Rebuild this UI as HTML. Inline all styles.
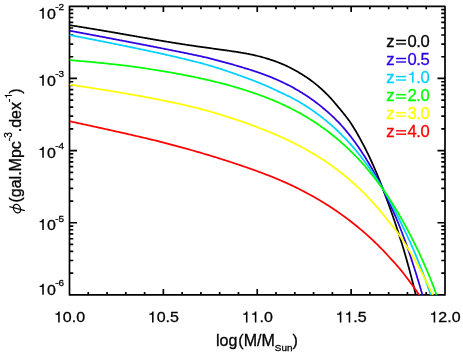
<!DOCTYPE html>
<html><head><meta charset="utf-8"><title>plot</title>
<style>html,body{margin:0;padding:0;background:#fff;}body{width:463px;height:360px;overflow:hidden;position:relative;font-family:"Liberation Sans",sans-serif;}</style></head>
<body>
<svg width="463" height="360" viewBox="0 0 463 360" style="position:absolute;left:0;top:0;will-change:transform;opacity:0.999">
<rect x="0" y="0" width="463" height="360" fill="#fff"/>
<clipPath id="c"><rect x="69.5" y="6.3" width="375.5" height="288.59999999999997"/></clipPath>
<path d="M69.5,6.3 H445.0 V294.9 H69.5 Z M69.50,294.9 v-5.8 M69.50,6.3 v5.8 M88.28,294.9 v-2.9 M88.28,6.3 v2.9 M107.05,294.9 v-2.9 M107.05,6.3 v2.9 M125.83,294.9 v-2.9 M125.83,6.3 v2.9 M144.60,294.9 v-2.9 M144.60,6.3 v2.9 M163.38,294.9 v-5.8 M163.38,6.3 v5.8 M182.15,294.9 v-2.9 M182.15,6.3 v2.9 M200.93,294.9 v-2.9 M200.93,6.3 v2.9 M219.70,294.9 v-2.9 M219.70,6.3 v2.9 M238.47,294.9 v-2.9 M238.47,6.3 v2.9 M257.25,294.9 v-5.8 M257.25,6.3 v5.8 M276.02,294.9 v-2.9 M276.02,6.3 v2.9 M294.80,294.9 v-2.9 M294.80,6.3 v2.9 M313.57,294.9 v-2.9 M313.57,6.3 v2.9 M332.35,294.9 v-2.9 M332.35,6.3 v2.9 M351.12,294.9 v-5.8 M351.12,6.3 v5.8 M369.90,294.9 v-2.9 M369.90,6.3 v2.9 M388.68,294.9 v-2.9 M388.68,6.3 v2.9 M407.45,294.9 v-2.9 M407.45,6.3 v2.9 M426.23,294.9 v-2.9 M426.23,6.3 v2.9 M445.00,294.9 v-5.8 M445.00,6.3 v5.8 M69.5,294.90 h7.5 M445.0,294.90 h-7.5 M69.5,273.18 h3.75 M445.0,273.18 h-3.75 M69.5,260.48 h3.75 M445.0,260.48 h-3.75 M69.5,251.46 h3.75 M445.0,251.46 h-3.75 M69.5,244.47 h3.75 M445.0,244.47 h-3.75 M69.5,238.76 h3.75 M445.0,238.76 h-3.75 M69.5,233.93 h3.75 M445.0,233.93 h-3.75 M69.5,229.74 h3.75 M445.0,229.74 h-3.75 M69.5,226.05 h3.75 M445.0,226.05 h-3.75 M69.5,222.75 h7.5 M445.0,222.75 h-7.5 M69.5,201.03 h3.75 M445.0,201.03 h-3.75 M69.5,188.33 h3.75 M445.0,188.33 h-3.75 M69.5,179.31 h3.75 M445.0,179.31 h-3.75 M69.5,172.32 h3.75 M445.0,172.32 h-3.75 M69.5,166.61 h3.75 M445.0,166.61 h-3.75 M69.5,161.78 h3.75 M445.0,161.78 h-3.75 M69.5,157.59 h3.75 M445.0,157.59 h-3.75 M69.5,153.90 h3.75 M445.0,153.90 h-3.75 M69.5,150.60 h7.5 M445.0,150.60 h-7.5 M69.5,128.88 h3.75 M445.0,128.88 h-3.75 M69.5,116.18 h3.75 M445.0,116.18 h-3.75 M69.5,107.16 h3.75 M445.0,107.16 h-3.75 M69.5,100.17 h3.75 M445.0,100.17 h-3.75 M69.5,94.46 h3.75 M445.0,94.46 h-3.75 M69.5,89.63 h3.75 M445.0,89.63 h-3.75 M69.5,85.44 h3.75 M445.0,85.44 h-3.75 M69.5,81.75 h3.75 M445.0,81.75 h-3.75 M69.5,78.45 h7.5 M445.0,78.45 h-7.5 M69.5,56.73 h3.75 M445.0,56.73 h-3.75 M69.5,44.03 h3.75 M445.0,44.03 h-3.75 M69.5,35.01 h3.75 M445.0,35.01 h-3.75 M69.5,28.02 h3.75 M445.0,28.02 h-3.75 M69.5,22.31 h3.75 M445.0,22.31 h-3.75 M69.5,17.48 h3.75 M445.0,17.48 h-3.75 M69.5,13.29 h3.75 M445.0,13.29 h-3.75 M69.5,9.60 h3.75 M445.0,9.60 h-3.75 M69.5,6.30 h7.5 M445.0,6.30 h-7.5" fill="none" stroke="#000" stroke-width="1.7" stroke-linejoin="round"/>
<g clip-path="url(#c)" fill="none" stroke-width="1.75" stroke-linejoin="round">
<path d="M69.50,25.16 L70.44,25.31 L71.38,25.46 L72.32,25.61 L73.26,25.76 L74.21,25.91 L75.15,26.05 L76.09,26.20 L77.03,26.35 L77.97,26.51 L78.91,26.66 L79.85,26.81 L80.79,26.96 L81.73,27.11 L82.68,27.26 L83.62,27.42 L84.56,27.57 L85.50,27.72 L86.44,27.88 L87.38,28.03 L88.32,28.19 L89.26,28.34 L90.20,28.50 L91.15,28.65 L92.09,28.81 L93.03,28.96 L93.97,29.12 L94.91,29.28 L95.85,29.44 L96.79,29.59 L97.73,29.75 L98.67,29.91 L99.62,30.07 L100.56,30.23 L101.50,30.39 L102.44,30.55 L103.38,30.71 L104.32,30.87 L105.26,31.03 L106.20,31.19 L107.14,31.35 L108.09,31.51 L109.03,31.67 L109.97,31.83 L110.91,31.99 L111.85,32.16 L112.79,32.32 L113.73,32.48 L114.67,32.64 L115.61,32.81 L116.56,32.97 L117.50,33.13 L118.44,33.30 L119.38,33.46 L120.32,33.62 L121.26,33.79 L122.20,33.95 L123.14,34.12 L124.08,34.28 L125.03,34.45 L125.97,34.61 L126.91,34.78 L127.85,34.94 L128.79,35.11 L129.73,35.27 L130.67,35.43 L131.61,35.60 L132.55,35.76 L133.49,35.93 L134.44,36.09 L135.38,36.26 L136.32,36.42 L137.26,36.59 L138.20,36.75 L139.14,36.92 L140.08,37.08 L141.02,37.25 L141.96,37.41 L142.91,37.58 L143.85,37.74 L144.79,37.91 L145.73,38.07 L146.67,38.23 L147.61,38.40 L148.55,38.56 L149.49,38.72 L150.43,38.89 L151.38,39.05 L152.32,39.21 L153.26,39.37 L154.20,39.53 L155.14,39.69 L156.08,39.85 L157.02,40.02 L157.96,40.18 L158.90,40.34 L159.85,40.49 L160.79,40.65 L161.73,40.81 L162.67,40.97 L163.61,41.13 L164.55,41.28 L165.49,41.44 L166.43,41.60 L167.37,41.75 L168.32,41.91 L169.26,42.06 L170.20,42.22 L171.14,42.37 L172.08,42.52 L173.02,42.67 L173.96,42.82 L174.90,42.98 L175.84,43.13 L176.79,43.28 L177.73,43.42 L178.67,43.57 L179.61,43.72 L180.55,43.87 L181.49,44.01 L182.43,44.16 L183.37,44.30 L184.31,44.45 L185.26,44.59 L186.20,44.74 L187.14,44.88 L188.08,45.02 L189.02,45.16 L189.96,45.30 L190.90,45.44 L191.84,45.58 L192.78,45.72 L193.73,45.86 L194.67,45.99 L195.61,46.13 L196.55,46.27 L197.49,46.40 L198.43,46.54 L199.37,46.67 L200.31,46.80 L201.25,46.94 L202.20,47.07 L203.14,47.20 L204.08,47.33 L205.02,47.46 L205.96,47.59 L206.90,47.73 L207.84,47.86 L208.78,47.99 L209.72,48.11 L210.67,48.24 L211.61,48.37 L212.55,48.50 L213.49,48.63 L214.43,48.76 L215.37,48.89 L216.31,49.02 L217.25,49.15 L218.19,49.28 L219.14,49.41 L220.08,49.54 L221.02,49.67 L221.96,49.80 L222.90,49.93 L223.84,50.06 L224.78,50.19 L225.72,50.32 L226.66,50.46 L227.61,50.59 L228.55,50.73 L229.49,50.86 L230.43,51.00 L231.37,51.14 L232.31,51.28 L233.25,51.42 L234.19,51.56 L235.13,51.70 L236.08,51.85 L237.02,51.99 L237.96,52.14 L238.90,52.29 L239.84,52.44 L240.78,52.60 L241.72,52.75 L242.66,52.91 L243.60,53.07 L244.55,53.24 L245.49,53.40 L246.43,53.57 L247.37,53.75 L248.31,53.93 L249.25,54.11 L250.19,54.30 L251.13,54.50 L252.07,54.69 L253.02,54.90 L253.96,55.11 L254.90,55.32 L255.84,55.54 L256.78,55.77 L257.72,56.00 L258.66,56.23 L259.60,56.48 L260.54,56.72 L261.48,56.97 L262.43,57.23 L263.37,57.49 L264.31,57.76 L265.25,58.03 L266.19,58.31 L267.13,58.60 L268.07,58.89 L269.01,59.19 L269.95,59.49 L270.90,59.80 L271.84,60.11 L272.78,60.43 L273.72,60.76 L274.66,61.09 L275.60,61.43 L276.54,61.78 L277.48,62.13 L278.42,62.49 L279.37,62.86 L280.31,63.23 L281.25,63.61 L282.19,64.00 L283.13,64.40 L284.07,64.81 L285.01,65.23 L285.95,65.66 L286.89,66.10 L287.84,66.55 L288.78,67.01 L289.72,67.48 L290.66,67.95 L291.60,68.44 L292.54,68.93 L293.48,69.44 L294.42,69.95 L295.36,70.47 L296.31,71.00 L297.25,71.54 L298.19,72.08 L299.13,72.64 L300.07,73.20 L301.01,73.77 L301.95,74.35 L302.89,74.94 L303.83,75.54 L304.78,76.15 L305.72,76.76 L306.66,77.39 L307.60,78.03 L308.54,78.68 L309.48,79.34 L310.42,80.02 L311.36,80.71 L312.30,81.42 L313.25,82.14 L314.19,82.87 L315.13,83.62 L316.07,84.38 L317.01,85.15 L317.95,85.94 L318.89,86.75 L319.83,87.57 L320.77,88.40 L321.72,89.26 L322.66,90.12 L323.60,91.01 L324.54,91.91 L325.48,92.82 L326.42,93.76 L327.36,94.71 L328.30,95.67 L329.24,96.66 L330.19,97.66 L331.13,98.68 L332.07,99.72 L333.01,100.78 L333.95,101.85 L334.89,102.95 L335.83,104.06 L336.77,105.19 L337.71,106.35 L338.66,107.51 L339.60,108.66 L340.54,109.79 L341.48,110.93 L342.42,112.06 L343.36,113.20 L344.30,114.35 L345.24,115.51 L346.18,116.70 L347.13,117.92 L348.07,119.18 L349.01,120.48 L349.95,121.82 L350.89,123.21 L351.83,124.66 L352.77,126.17 L353.71,127.69 L354.65,129.24 L355.60,130.82 L356.54,132.42 L357.48,134.05 L358.42,135.70 L359.36,137.38 L360.30,139.08 L361.24,140.82 L362.18,142.58 L363.12,144.36 L364.07,146.18 L365.01,148.02 L365.95,149.89 L366.89,151.79 L367.83,153.72 L368.77,155.68 L369.71,157.66 L370.65,159.68 L371.59,161.73 L372.54,163.81 L373.48,165.92 L374.42,168.06 L375.36,170.24 L376.30,172.45 L377.24,174.68 L378.18,176.96 L379.12,179.26 L380.06,181.61 L381.01,183.98 L381.95,186.39 L382.89,188.84 L383.83,191.32 L384.77,193.83 L385.71,196.39 L386.67,198.98 L387.63,201.60 L388.60,204.27 L389.58,206.97 L390.56,209.71 L391.55,212.50 L392.54,215.32 L393.53,218.18 L394.53,221.08 L395.52,224.02 L396.51,227.01 L397.50,230.03 L398.50,233.10 L399.50,236.21 L400.51,239.37 L401.52,242.57 L402.53,245.81 L403.53,249.10 L404.53,252.44 L405.52,255.82 L406.49,259.24 L407.46,262.72 L408.43,266.24 L409.40,269.81 L410.37,273.43 L411.33,277.10 L412.29,280.82 L413.25,284.59 L414.20,288.41 L415.14,292.28 L416.08,296.21" stroke="#000000"/>
<path d="M69.50,30.69 L70.44,30.86 L71.38,31.04 L72.32,31.21 L73.26,31.39 L74.21,31.56 L75.15,31.74 L76.09,31.91 L77.03,32.09 L77.97,32.27 L78.91,32.44 L79.85,32.62 L80.79,32.79 L81.73,32.97 L82.68,33.15 L83.62,33.32 L84.56,33.50 L85.50,33.68 L86.44,33.85 L87.38,34.03 L88.32,34.21 L89.26,34.39 L90.20,34.56 L91.15,34.74 L92.09,34.92 L93.03,35.09 L93.97,35.27 L94.91,35.45 L95.85,35.63 L96.79,35.81 L97.73,35.98 L98.67,36.16 L99.62,36.34 L100.56,36.52 L101.50,36.70 L102.44,36.87 L103.38,37.05 L104.32,37.23 L105.26,37.41 L106.20,37.59 L107.14,37.77 L108.09,37.95 L109.03,38.13 L109.97,38.31 L110.91,38.48 L111.85,38.66 L112.79,38.84 L113.73,39.02 L114.67,39.20 L115.61,39.38 L116.56,39.56 L117.50,39.74 L118.44,39.92 L119.38,40.10 L120.32,40.28 L121.26,40.46 L122.20,40.64 L123.14,40.82 L124.08,41.00 L125.03,41.18 L125.97,41.36 L126.91,41.54 L127.85,41.73 L128.79,41.91 L129.73,42.09 L130.67,42.27 L131.61,42.45 L132.55,42.63 L133.49,42.81 L134.44,42.99 L135.38,43.17 L136.32,43.36 L137.26,43.54 L138.20,43.72 L139.14,43.90 L140.08,44.08 L141.02,44.27 L141.96,44.45 L142.91,44.63 L143.85,44.81 L144.79,45.00 L145.73,45.18 L146.67,45.36 L147.61,45.54 L148.55,45.73 L149.49,45.91 L150.43,46.09 L151.38,46.28 L152.32,46.46 L153.26,46.65 L154.20,46.83 L155.14,47.01 L156.08,47.20 L157.02,47.38 L157.96,47.57 L158.90,47.75 L159.85,47.94 L160.79,48.12 L161.73,48.31 L162.67,48.49 L163.61,48.68 L164.55,48.87 L165.49,49.05 L166.43,49.24 L167.37,49.42 L168.32,49.61 L169.26,49.80 L170.20,49.99 L171.14,50.17 L172.08,50.36 L173.02,50.55 L173.96,50.74 L174.90,50.93 L175.84,51.12 L176.79,51.31 L177.73,51.50 L178.67,51.69 L179.61,51.88 L180.55,52.07 L181.49,52.26 L182.43,52.45 L183.37,52.64 L184.31,52.84 L185.26,53.03 L186.20,53.22 L187.14,53.42 L188.08,53.61 L189.02,53.81 L189.96,54.00 L190.90,54.20 L191.84,54.40 L192.78,54.59 L193.73,54.79 L194.67,54.99 L195.61,55.19 L196.55,55.39 L197.49,55.59 L198.43,55.79 L199.37,55.99 L200.31,56.20 L201.25,56.40 L202.20,56.61 L203.14,56.82 L204.08,57.03 L205.02,57.25 L205.96,57.47 L206.90,57.69 L207.84,57.92 L208.78,58.14 L209.72,58.37 L210.67,58.60 L211.61,58.84 L212.55,59.07 L213.49,59.31 L214.43,59.55 L215.37,59.79 L216.31,60.04 L217.25,60.28 L218.19,60.53 L219.14,60.78 L220.08,61.03 L221.02,61.29 L221.96,61.54 L222.90,61.80 L223.84,62.06 L224.78,62.31 L225.72,62.58 L226.66,62.84 L227.61,63.10 L228.55,63.37 L229.49,63.63 L230.43,63.90 L231.37,64.17 L232.31,64.44 L233.25,64.71 L234.19,64.98 L235.13,65.26 L236.08,65.53 L237.02,65.81 L237.96,66.08 L238.90,66.36 L239.84,66.64 L240.78,66.91 L241.72,67.19 L242.66,67.47 L243.60,67.75 L244.55,68.04 L245.49,68.32 L246.43,68.60 L247.37,68.89 L248.31,69.18 L249.25,69.47 L250.19,69.77 L251.13,70.07 L252.07,70.37 L253.02,70.68 L253.96,70.98 L254.90,71.30 L255.84,71.61 L256.78,71.93 L257.72,72.25 L258.66,72.58 L259.60,72.90 L260.54,73.24 L261.48,73.57 L262.43,73.91 L263.37,74.26 L264.31,74.61 L265.25,74.96 L266.19,75.31 L267.13,75.67 L268.07,76.04 L269.01,76.41 L269.95,76.78 L270.90,77.16 L271.84,77.54 L272.78,77.93 L273.72,78.32 L274.66,78.72 L275.60,79.12 L276.54,79.53 L277.48,79.94 L278.42,80.36 L279.37,80.78 L280.31,81.21 L281.25,81.65 L282.19,82.09 L283.13,82.53 L284.07,82.99 L285.01,83.44 L285.95,83.91 L286.89,84.38 L287.84,84.85 L288.78,85.34 L289.72,85.82 L290.66,86.32 L291.60,86.82 L292.54,87.33 L293.48,87.85 L294.42,88.37 L295.36,88.90 L296.31,89.44 L297.25,89.98 L298.19,90.53 L299.13,91.09 L300.07,91.66 L301.01,92.23 L301.95,92.81 L302.89,93.40 L303.83,94.00 L304.78,94.60 L305.72,95.21 L306.66,95.83 L307.60,96.45 L308.54,97.09 L309.48,97.73 L310.42,98.38 L311.36,99.04 L312.30,99.71 L313.25,100.39 L314.19,101.08 L315.13,101.78 L316.07,102.49 L317.01,103.20 L317.95,103.93 L318.89,104.67 L319.83,105.42 L320.77,106.18 L321.72,106.94 L322.66,107.71 L323.60,108.49 L324.54,109.28 L325.48,110.07 L326.42,110.88 L327.36,111.69 L328.30,112.52 L329.24,113.36 L330.19,114.20 L331.13,115.06 L332.07,115.94 L333.01,116.82 L333.95,117.72 L334.89,118.64 L335.83,119.56 L336.77,120.51 L337.71,121.47 L338.66,122.45 L339.60,123.44 L340.54,124.45 L341.48,125.48 L342.42,126.53 L343.36,127.60 L344.30,128.69 L345.24,129.80 L346.18,130.93 L347.13,132.07 L348.07,133.23 L349.01,134.41 L349.95,135.60 L350.89,136.81 L351.83,138.03 L352.77,139.27 L353.71,140.53 L354.65,141.81 L355.60,143.10 L356.54,144.41 L357.48,145.74 L358.42,147.09 L359.36,148.46 L360.30,149.84 L361.24,151.25 L362.18,152.67 L363.12,154.12 L364.07,155.58 L365.01,157.06 L365.95,158.57 L366.89,160.09 L367.83,161.63 L368.77,163.20 L369.71,164.79 L370.65,166.39 L371.59,168.02 L372.54,169.68 L373.48,171.35 L374.42,173.05 L375.36,174.77 L376.30,176.51 L377.24,178.28 L378.18,180.07 L379.12,181.88 L380.06,183.72 L381.01,185.58 L381.95,187.47 L382.89,189.38 L383.83,191.32 L384.77,193.29 L385.71,195.28 L386.67,197.29 L387.64,199.34 L388.62,201.41 L389.60,203.51 L390.59,205.63 L391.59,207.79 L392.59,209.97 L393.58,212.18 L394.58,214.42 L395.57,216.69 L396.56,218.99 L397.54,221.32 L398.51,223.68 L399.48,226.07 L400.43,228.50 L401.37,230.95 L402.31,233.44 L403.25,235.96 L404.19,238.51 L405.13,241.09 L406.07,243.71 L407.01,246.36 L407.96,249.05 L408.90,251.77 L409.84,254.53 L410.78,257.32 L411.72,260.15 L412.66,263.01 L413.60,265.91 L414.54,268.85 L415.48,271.83 L416.43,274.84 L417.37,277.90 L418.31,280.99 L419.25,284.12 L420.19,287.29 L421.13,290.51 L422.07,293.76 L423.01,297.05" stroke="#2e00e3"/>
<path d="M69.50,34.98 L70.44,35.16 L71.38,35.34 L72.32,35.53 L73.26,35.71 L74.21,35.89 L75.15,36.07 L76.09,36.26 L77.03,36.44 L77.97,36.63 L78.91,36.81 L79.85,36.99 L80.79,37.18 L81.73,37.36 L82.68,37.54 L83.62,37.73 L84.56,37.91 L85.50,38.10 L86.44,38.28 L87.38,38.47 L88.32,38.65 L89.26,38.83 L90.20,39.02 L91.15,39.20 L92.09,39.39 L93.03,39.58 L93.97,39.76 L94.91,39.95 L95.85,40.13 L96.79,40.32 L97.73,40.50 L98.67,40.69 L99.62,40.88 L100.56,41.06 L101.50,41.25 L102.44,41.44 L103.38,41.62 L104.32,41.81 L105.26,42.00 L106.20,42.19 L107.14,42.37 L108.09,42.56 L109.03,42.75 L109.97,42.94 L110.91,43.13 L111.85,43.32 L112.79,43.50 L113.73,43.69 L114.67,43.88 L115.61,44.07 L116.56,44.26 L117.50,44.45 L118.44,44.64 L119.38,44.83 L120.32,45.02 L121.26,45.21 L122.20,45.41 L123.14,45.60 L124.08,45.79 L125.03,45.98 L125.97,46.17 L126.91,46.37 L127.85,46.56 L128.79,46.75 L129.73,46.95 L130.67,47.14 L131.61,47.33 L132.55,47.53 L133.49,47.72 L134.44,47.92 L135.38,48.12 L136.32,48.31 L137.26,48.51 L138.20,48.70 L139.14,48.90 L140.08,49.10 L141.02,49.30 L141.96,49.49 L142.91,49.69 L143.85,49.89 L144.79,50.09 L145.73,50.29 L146.67,50.49 L147.61,50.69 L148.55,50.89 L149.49,51.09 L150.43,51.30 L151.38,51.50 L152.32,51.70 L153.26,51.91 L154.20,52.11 L155.14,52.31 L156.08,52.52 L157.02,52.72 L157.96,52.93 L158.90,53.14 L159.85,53.34 L160.79,53.55 L161.73,53.76 L162.67,53.97 L163.61,54.18 L164.55,54.39 L165.49,54.60 L166.43,54.81 L167.37,55.02 L168.32,55.24 L169.26,55.45 L170.20,55.66 L171.14,55.88 L172.08,56.09 L173.02,56.31 L173.96,56.53 L174.90,56.75 L175.84,56.96 L176.79,57.18 L177.73,57.40 L178.67,57.62 L179.61,57.85 L180.55,58.07 L181.49,58.29 L182.43,58.52 L183.37,58.74 L184.31,58.97 L185.26,59.19 L186.20,59.42 L187.14,59.65 L188.08,59.88 L189.02,60.11 L189.96,60.34 L190.90,60.58 L191.84,60.81 L192.78,61.04 L193.73,61.28 L194.67,61.52 L195.61,61.76 L196.55,61.99 L197.49,62.24 L198.43,62.48 L199.37,62.72 L200.31,62.96 L201.25,63.21 L202.20,63.46 L203.14,63.71 L204.08,63.97 L205.02,64.23 L205.96,64.50 L206.90,64.76 L207.84,65.03 L208.78,65.30 L209.72,65.58 L210.67,65.86 L211.61,66.14 L212.55,66.42 L213.49,66.71 L214.43,67.00 L215.37,67.29 L216.31,67.58 L217.25,67.88 L218.19,68.17 L219.14,68.47 L220.08,68.78 L221.02,69.08 L221.96,69.39 L222.90,69.70 L223.84,70.01 L224.78,70.32 L225.72,70.64 L226.66,70.95 L227.61,71.27 L228.55,71.59 L229.49,71.91 L230.43,72.24 L231.37,72.56 L232.31,72.89 L233.25,73.21 L234.19,73.54 L235.13,73.87 L236.08,74.20 L237.02,74.54 L237.96,74.87 L238.90,75.21 L239.84,75.54 L240.78,75.88 L241.72,76.22 L242.66,76.56 L243.60,76.90 L244.55,77.24 L245.49,77.58 L246.43,77.92 L247.37,78.27 L248.31,78.62 L249.25,78.97 L250.19,79.32 L251.13,79.68 L252.07,80.04 L253.02,80.41 L253.96,80.77 L254.90,81.14 L255.84,81.51 L256.78,81.89 L257.72,82.27 L258.66,82.65 L259.60,83.03 L260.54,83.42 L261.48,83.81 L262.43,84.20 L263.37,84.60 L264.31,85.00 L265.25,85.40 L266.19,85.81 L267.13,86.22 L268.07,86.63 L269.01,87.05 L269.95,87.47 L270.90,87.89 L271.84,88.32 L272.78,88.75 L273.72,89.18 L274.66,89.62 L275.60,90.06 L276.54,90.51 L277.48,90.95 L278.42,91.40 L279.37,91.85 L280.31,92.29 L281.25,92.73 L282.19,93.18 L283.13,93.62 L284.07,94.07 L285.01,94.51 L285.95,94.96 L286.89,95.42 L287.84,95.87 L288.78,96.33 L289.72,96.80 L290.66,97.27 L291.60,97.75 L292.54,98.23 L293.48,98.72 L294.42,99.22 L295.36,99.72 L296.31,100.24 L297.25,100.76 L298.19,101.30 L299.13,101.84 L300.07,102.40 L301.01,102.97 L301.95,103.54 L302.89,104.12 L303.83,104.70 L304.78,105.29 L305.72,105.89 L306.66,106.49 L307.60,107.10 L308.54,107.72 L309.48,108.35 L310.42,108.98 L311.36,109.62 L312.30,110.27 L313.25,110.92 L314.19,111.59 L315.13,112.26 L316.07,112.94 L317.01,113.62 L317.95,114.32 L318.89,115.02 L319.83,115.73 L320.77,116.45 L321.72,117.17 L322.66,117.91 L323.60,118.66 L324.54,119.41 L325.48,120.17 L326.42,120.94 L327.36,121.72 L328.30,122.51 L329.24,123.31 L330.19,124.12 L331.13,124.94 L332.07,125.77 L333.01,126.61 L333.95,127.46 L334.89,128.31 L335.83,129.18 L336.77,130.06 L337.71,130.95 L338.66,131.85 L339.60,132.77 L340.54,133.69 L341.48,134.62 L342.42,135.57 L343.36,136.52 L344.30,137.49 L345.24,138.47 L346.18,139.46 L347.13,140.47 L348.07,141.48 L349.01,142.51 L349.95,143.55 L350.89,144.60 L351.83,145.66 L352.77,146.74 L353.71,147.83 L354.65,148.93 L355.60,150.04 L356.54,151.17 L357.48,152.31 L358.42,153.46 L359.36,154.63 L360.30,155.81 L361.24,157.01 L362.18,158.22 L363.12,159.44 L364.07,160.68 L365.01,161.93 L365.95,163.20 L366.89,164.49 L367.83,165.78 L368.77,167.10 L369.71,168.43 L370.65,169.77 L371.59,171.13 L372.54,172.51 L373.48,173.90 L374.42,175.31 L375.36,176.74 L376.30,178.19 L377.24,179.65 L378.18,181.13 L379.12,182.62 L380.06,184.14 L381.01,185.67 L381.95,187.22 L382.89,188.79 L383.83,190.38 L384.77,191.98 L385.71,193.61 L386.65,195.26 L387.59,196.92 L388.53,198.61 L389.47,200.31 L390.42,202.04 L391.36,203.78 L392.30,205.55 L393.24,207.34 L394.18,209.15 L395.12,210.98 L396.06,212.83 L397.00,214.71 L397.94,216.61 L398.89,218.53 L399.83,220.47 L400.77,222.44 L401.73,224.43 L402.70,226.44 L403.68,228.48 L404.67,230.55 L405.66,232.63 L406.66,234.75 L407.67,236.88 L408.67,239.05 L409.68,241.24 L410.69,243.45 L411.70,245.70 L412.70,247.96 L413.70,250.26 L414.69,252.58 L415.68,254.94 L416.66,257.32 L417.65,259.72 L418.63,262.16 L419.62,264.63 L420.60,267.12 L421.59,269.65 L422.57,272.20 L423.56,274.79 L424.53,277.41 L425.51,280.06 L426.48,282.74 L427.44,285.45 L428.40,288.20 L429.36,290.97 L430.30,293.78 L431.24,296.63" stroke="#00d0ff"/>
<path d="M69.50,60.03 L70.44,60.11 L71.38,60.19 L72.32,60.27 L73.26,60.35 L74.21,60.43 L75.15,60.52 L76.09,60.60 L77.03,60.68 L77.97,60.77 L78.91,60.85 L79.85,60.94 L80.79,61.02 L81.73,61.11 L82.68,61.20 L83.62,61.28 L84.56,61.37 L85.50,61.46 L86.44,61.54 L87.38,61.63 L88.32,61.72 L89.26,61.81 L90.20,61.90 L91.15,61.99 L92.09,62.08 L93.03,62.17 L93.97,62.27 L94.91,62.36 L95.85,62.45 L96.79,62.54 L97.73,62.64 L98.67,62.73 L99.62,62.83 L100.56,62.92 L101.50,63.02 L102.44,63.11 L103.38,63.21 L104.32,63.31 L105.26,63.41 L106.20,63.50 L107.14,63.60 L108.09,63.70 L109.03,63.80 L109.97,63.90 L110.91,64.01 L111.85,64.11 L112.79,64.21 L113.73,64.31 L114.67,64.42 L115.61,64.52 L116.56,64.63 L117.50,64.73 L118.44,64.84 L119.38,64.95 L120.32,65.06 L121.26,65.16 L122.20,65.27 L123.14,65.38 L124.08,65.49 L125.03,65.60 L125.97,65.72 L126.91,65.83 L127.85,65.95 L128.79,66.07 L129.73,66.19 L130.67,66.31 L131.61,66.43 L132.55,66.56 L133.49,66.69 L134.44,66.81 L135.38,66.94 L136.32,67.08 L137.26,67.21 L138.20,67.34 L139.14,67.48 L140.08,67.62 L141.02,67.75 L141.96,67.89 L142.91,68.03 L143.85,68.18 L144.79,68.32 L145.73,68.46 L146.67,68.61 L147.61,68.75 L148.55,68.90 L149.49,69.04 L150.43,69.19 L151.38,69.34 L152.32,69.49 L153.26,69.64 L154.20,69.79 L155.14,69.94 L156.08,70.09 L157.02,70.24 L157.96,70.39 L158.90,70.54 L159.85,70.69 L160.79,70.84 L161.73,71.00 L162.67,71.15 L163.61,71.31 L164.55,71.46 L165.49,71.62 L166.43,71.78 L167.37,71.94 L168.32,72.10 L169.26,72.26 L170.20,72.43 L171.14,72.59 L172.08,72.76 L173.02,72.92 L173.96,73.09 L174.90,73.26 L175.84,73.43 L176.79,73.61 L177.73,73.78 L178.67,73.95 L179.61,74.13 L180.55,74.31 L181.49,74.48 L182.43,74.66 L183.37,74.84 L184.31,75.03 L185.26,75.21 L186.20,75.39 L187.14,75.58 L188.08,75.77 L189.02,75.95 L189.96,76.14 L190.90,76.33 L191.84,76.53 L192.78,76.72 L193.73,76.91 L194.67,77.11 L195.61,77.31 L196.55,77.51 L197.49,77.71 L198.43,77.91 L199.37,78.11 L200.31,78.32 L201.25,78.52 L202.20,78.73 L203.14,78.94 L204.08,79.15 L205.02,79.36 L205.96,79.57 L206.90,79.79 L207.84,80.00 L208.78,80.22 L209.72,80.44 L210.67,80.66 L211.61,80.88 L212.55,81.11 L213.49,81.33 L214.43,81.56 L215.37,81.79 L216.31,82.02 L217.25,82.25 L218.19,82.49 L219.14,82.72 L220.08,82.96 L221.02,83.20 L221.96,83.45 L222.90,83.69 L223.84,83.94 L224.78,84.19 L225.72,84.44 L226.66,84.69 L227.61,84.94 L228.55,85.20 L229.49,85.46 L230.43,85.72 L231.37,85.98 L232.31,86.25 L233.25,86.52 L234.19,86.79 L235.13,87.06 L236.08,87.34 L237.02,87.62 L237.96,87.90 L238.90,88.18 L239.84,88.47 L240.78,88.75 L241.72,89.04 L242.66,89.34 L243.60,89.63 L244.55,89.93 L245.49,90.23 L246.43,90.54 L247.37,90.84 L248.31,91.15 L249.25,91.46 L250.19,91.78 L251.13,92.09 L252.07,92.41 L253.02,92.73 L253.96,93.05 L254.90,93.38 L255.84,93.71 L256.78,94.04 L257.72,94.37 L258.66,94.71 L259.60,95.05 L260.54,95.39 L261.48,95.73 L262.43,96.08 L263.37,96.44 L264.31,96.79 L265.25,97.15 L266.19,97.51 L267.13,97.87 L268.07,98.24 L269.01,98.61 L269.95,98.99 L270.90,99.37 L271.84,99.75 L272.78,100.14 L273.72,100.53 L274.66,100.92 L275.60,101.32 L276.54,101.72 L277.48,102.13 L278.42,102.54 L279.37,102.95 L280.31,103.37 L281.25,103.79 L282.19,104.22 L283.13,104.65 L284.07,105.09 L285.01,105.53 L285.95,105.97 L286.89,106.42 L287.84,106.88 L288.78,107.34 L289.72,107.80 L290.66,108.27 L291.60,108.75 L292.54,109.23 L293.48,109.71 L294.42,110.20 L295.36,110.70 L296.31,111.20 L297.25,111.71 L298.19,112.22 L299.13,112.74 L300.07,113.26 L301.01,113.79 L301.95,114.33 L302.89,114.87 L303.83,115.41 L304.78,115.97 L305.72,116.53 L306.66,117.09 L307.60,117.66 L308.54,118.24 L309.48,118.82 L310.42,119.41 L311.36,120.00 L312.30,120.60 L313.25,121.21 L314.19,121.82 L315.13,122.44 L316.07,123.06 L317.01,123.69 L317.95,124.33 L318.89,124.97 L319.83,125.62 L320.77,126.28 L321.72,126.94 L322.66,127.61 L323.60,128.29 L324.54,128.97 L325.48,129.66 L326.42,130.36 L327.36,131.07 L328.30,131.78 L329.24,132.50 L330.19,133.22 L331.13,133.96 L332.07,134.70 L333.01,135.45 L333.95,136.21 L334.89,136.97 L335.83,137.75 L336.77,138.53 L337.71,139.32 L338.66,140.11 L339.60,140.92 L340.54,141.73 L341.48,142.56 L342.42,143.39 L343.36,144.23 L344.30,145.08 L345.24,145.94 L346.18,146.80 L347.13,147.68 L348.07,148.57 L349.01,149.46 L349.95,150.37 L350.89,151.28 L351.83,152.21 L352.77,153.14 L353.71,154.09 L354.65,155.04 L355.60,156.01 L356.54,156.99 L357.48,157.97 L358.42,158.97 L359.36,159.98 L360.30,161.00 L361.24,162.03 L362.18,163.07 L363.12,164.12 L364.07,165.19 L365.01,166.27 L365.95,167.36 L366.89,168.46 L367.83,169.57 L368.77,170.70 L369.71,171.84 L370.65,172.99 L371.59,174.15 L372.54,175.33 L373.48,176.52 L374.42,177.72 L375.36,178.94 L376.30,180.17 L377.24,181.42 L378.18,182.68 L379.12,183.95 L380.06,185.24 L381.01,186.55 L381.95,187.87 L382.89,189.20 L383.83,190.55 L384.77,191.91 L385.71,193.30 L386.65,194.69 L387.60,196.11 L388.54,197.54 L389.49,198.98 L390.44,200.45 L391.39,201.93 L392.34,203.43 L393.29,204.94 L394.24,206.47 L395.19,208.03 L396.15,209.60 L397.10,211.19 L398.06,212.79 L399.01,214.42 L399.97,216.07 L400.93,217.73 L401.88,219.42 L402.84,221.12 L403.80,222.85 L404.76,224.60 L405.72,226.36 L406.68,228.15 L407.64,229.96 L408.60,231.80 L409.57,233.65 L410.54,235.53 L411.52,237.43 L412.50,239.35 L413.48,241.30 L414.47,243.27 L415.45,245.26 L416.44,247.28 L417.43,249.33 L418.41,251.39 L419.39,253.49 L420.37,255.61 L421.35,257.75 L422.33,259.92 L423.31,262.12 L424.29,264.35 L425.28,266.60 L426.26,268.88 L427.24,271.19 L428.22,273.53 L429.20,275.89 L430.18,278.29 L431.15,280.71 L432.12,283.17 L433.09,285.65 L434.05,288.17 L435.00,290.72 L435.95,293.29 L436.89,295.91" stroke="#00ff00"/>
<path d="M69.50,84.64 L70.44,84.78 L71.38,84.92 L72.32,85.06 L73.26,85.20 L74.21,85.33 L75.15,85.47 L76.09,85.61 L77.03,85.75 L77.97,85.89 L78.91,86.03 L79.85,86.17 L80.79,86.31 L81.73,86.46 L82.68,86.60 L83.62,86.74 L84.56,86.88 L85.50,87.02 L86.44,87.17 L87.38,87.31 L88.32,87.45 L89.26,87.60 L90.20,87.74 L91.15,87.89 L92.09,88.03 L93.03,88.18 L93.97,88.32 L94.91,88.47 L95.85,88.62 L96.79,88.76 L97.73,88.91 L98.67,89.06 L99.62,89.21 L100.56,89.36 L101.50,89.50 L102.44,89.65 L103.38,89.80 L104.32,89.95 L105.26,90.11 L106.20,90.26 L107.14,90.41 L108.09,90.56 L109.03,90.71 L109.97,90.87 L110.91,91.02 L111.85,91.17 L112.79,91.33 L113.73,91.48 L114.67,91.64 L115.61,91.80 L116.56,91.95 L117.50,92.11 L118.44,92.27 L119.38,92.43 L120.32,92.58 L121.26,92.74 L122.20,92.90 L123.14,93.06 L124.08,93.22 L125.03,93.39 L125.97,93.55 L126.91,93.71 L127.85,93.87 L128.79,94.04 L129.73,94.20 L130.67,94.37 L131.61,94.53 L132.55,94.70 L133.49,94.86 L134.44,95.03 L135.38,95.20 L136.32,95.37 L137.26,95.54 L138.20,95.71 L139.14,95.88 L140.08,96.05 L141.02,96.22 L141.96,96.39 L142.91,96.57 L143.85,96.74 L144.79,96.92 L145.73,97.09 L146.67,97.27 L147.61,97.44 L148.55,97.62 L149.49,97.80 L150.43,97.98 L151.38,98.16 L152.32,98.34 L153.26,98.52 L154.20,98.70 L155.14,98.88 L156.08,99.07 L157.02,99.25 L157.96,99.44 L158.90,99.62 L159.85,99.81 L160.79,100.00 L161.73,100.19 L162.67,100.38 L163.61,100.57 L164.55,100.76 L165.49,100.95 L166.43,101.15 L167.37,101.34 L168.32,101.53 L169.26,101.73 L170.20,101.93 L171.14,102.13 L172.08,102.32 L173.02,102.52 L173.96,102.72 L174.90,102.93 L175.84,103.13 L176.79,103.33 L177.73,103.54 L178.67,103.74 L179.61,103.95 L180.55,104.16 L181.49,104.37 L182.43,104.58 L183.37,104.79 L184.31,105.00 L185.26,105.22 L186.20,105.43 L187.14,105.65 L188.08,105.87 L189.02,106.09 L189.96,106.31 L190.90,106.54 L191.84,106.77 L192.78,107.00 L193.73,107.23 L194.67,107.46 L195.61,107.70 L196.55,107.94 L197.49,108.18 L198.43,108.42 L199.37,108.66 L200.31,108.91 L201.25,109.16 L202.20,109.41 L203.14,109.66 L204.08,109.91 L205.02,110.17 L205.96,110.43 L206.90,110.69 L207.84,110.95 L208.78,111.21 L209.72,111.47 L210.67,111.74 L211.61,112.01 L212.55,112.28 L213.49,112.55 L214.43,112.83 L215.37,113.10 L216.31,113.38 L217.25,113.66 L218.19,113.94 L219.14,114.22 L220.08,114.51 L221.02,114.79 L221.96,115.08 L222.90,115.37 L223.84,115.66 L224.78,115.96 L225.72,116.25 L226.66,116.55 L227.61,116.85 L228.55,117.15 L229.49,117.45 L230.43,117.75 L231.37,118.06 L232.31,118.36 L233.25,118.67 L234.19,118.98 L235.13,119.29 L236.08,119.61 L237.02,119.92 L237.96,120.24 L238.90,120.56 L239.84,120.88 L240.78,121.20 L241.72,121.52 L242.66,121.85 L243.60,122.18 L244.55,122.50 L245.49,122.84 L246.43,123.17 L247.37,123.50 L248.31,123.84 L249.25,124.18 L250.19,124.53 L251.13,124.87 L252.07,125.22 L253.02,125.57 L253.96,125.93 L254.90,126.28 L255.84,126.64 L256.78,127.00 L257.72,127.36 L258.66,127.72 L259.60,128.09 L260.54,128.45 L261.48,128.82 L262.43,129.19 L263.37,129.56 L264.31,129.93 L265.25,130.31 L266.19,130.68 L267.13,131.06 L268.07,131.44 L269.01,131.83 L269.95,132.21 L270.90,132.60 L271.84,132.99 L272.78,133.39 L273.72,133.78 L274.66,134.18 L275.60,134.58 L276.54,134.99 L277.48,135.40 L278.42,135.81 L279.37,136.22 L280.31,136.64 L281.25,137.06 L282.19,137.48 L283.13,137.91 L284.07,138.34 L285.01,138.77 L285.95,139.21 L286.89,139.65 L287.84,140.09 L288.78,140.54 L289.72,140.99 L290.66,141.45 L291.60,141.91 L292.54,142.37 L293.48,142.83 L294.42,143.30 L295.36,143.78 L296.31,144.25 L297.25,144.73 L298.19,145.22 L299.13,145.71 L300.07,146.20 L301.01,146.70 L301.95,147.20 L302.89,147.71 L303.83,148.22 L304.78,148.74 L305.72,149.26 L306.66,149.78 L307.60,150.31 L308.54,150.85 L309.48,151.39 L310.42,151.93 L311.36,152.48 L312.30,153.03 L313.25,153.59 L314.19,154.16 L315.13,154.73 L316.07,155.30 L317.01,155.88 L317.95,156.47 L318.89,157.06 L319.83,157.65 L320.77,158.26 L321.72,158.86 L322.66,159.48 L323.60,160.10 L324.54,160.72 L325.48,161.35 L326.42,161.99 L327.36,162.64 L328.30,163.29 L329.24,163.94 L330.19,164.61 L331.13,165.27 L332.07,165.95 L333.01,166.63 L333.95,167.32 L334.89,168.01 L335.83,168.71 L336.77,169.42 L337.71,170.13 L338.66,170.85 L339.60,171.58 L340.54,172.31 L341.48,173.05 L342.42,173.80 L343.36,174.55 L344.30,175.31 L345.24,176.08 L346.18,176.86 L347.13,177.64 L348.07,178.44 L349.01,179.24 L349.95,180.04 L350.89,180.86 L351.83,181.68 L352.77,182.51 L353.71,183.35 L354.65,184.20 L355.60,185.06 L356.54,185.93 L357.48,186.80 L358.42,187.68 L359.36,188.58 L360.30,189.48 L361.24,190.39 L362.18,191.31 L363.12,192.24 L364.07,193.18 L365.01,194.13 L365.95,195.09 L366.89,196.06 L367.83,197.03 L368.77,198.02 L369.71,199.02 L370.65,200.04 L371.59,201.06 L372.54,202.09 L373.48,203.13 L374.42,204.19 L375.36,205.25 L376.30,206.33 L377.24,207.42 L378.18,208.52 L379.12,209.63 L380.06,210.76 L381.01,211.89 L381.95,213.04 L382.89,214.20 L383.83,215.38 L384.77,216.56 L385.72,217.76 L386.70,218.98 L387.70,220.20 L388.73,221.44 L389.77,222.69 L390.82,223.96 L391.87,225.24 L392.92,226.53 L393.97,227.83 L395.01,229.15 L396.03,230.49 L397.03,231.84 L398.00,233.20 L398.96,234.58 L399.92,235.97 L400.88,237.38 L401.83,238.80 L402.79,240.24 L403.74,241.69 L404.69,243.16 L405.65,244.65 L406.60,246.15 L407.55,247.67 L408.50,249.20 L409.45,250.75 L410.39,252.32 L411.34,253.91 L412.29,255.51 L413.24,257.13 L414.19,258.77 L415.14,260.43 L416.08,262.11 L417.03,263.80 L417.98,265.52 L418.93,267.25 L419.88,269.00 L420.83,270.77 L421.78,272.57 L422.73,274.38 L423.68,276.21 L424.62,278.07 L425.57,279.94 L426.52,281.84 L427.46,283.76 L428.41,285.69 L429.35,287.66 L430.30,289.64 L431.24,291.65 L432.18,293.68 L433.12,295.73 L434.07,297.81" stroke="#ffff00"/>
<path d="M69.50,121.25 L70.44,121.45 L71.38,121.65 L72.32,121.85 L73.26,122.06 L74.21,122.26 L75.15,122.46 L76.09,122.67 L77.03,122.87 L77.97,123.07 L78.91,123.27 L79.85,123.48 L80.79,123.68 L81.73,123.89 L82.68,124.09 L83.62,124.29 L84.56,124.50 L85.50,124.70 L86.44,124.90 L87.38,125.11 L88.32,125.31 L89.26,125.52 L90.20,125.72 L91.15,125.93 L92.09,126.13 L93.03,126.34 L93.97,126.54 L94.91,126.75 L95.85,126.95 L96.79,127.16 L97.73,127.37 L98.67,127.57 L99.62,127.78 L100.56,127.98 L101.50,128.19 L102.44,128.40 L103.38,128.60 L104.32,128.81 L105.26,129.02 L106.20,129.23 L107.14,129.44 L108.09,129.64 L109.03,129.85 L109.97,130.06 L110.91,130.27 L111.85,130.48 L112.79,130.69 L113.73,130.90 L114.67,131.11 L115.61,131.32 L116.56,131.53 L117.50,131.74 L118.44,131.95 L119.38,132.16 L120.32,132.37 L121.26,132.58 L122.20,132.80 L123.14,133.01 L124.08,133.22 L125.03,133.43 L125.97,133.65 L126.91,133.86 L127.85,134.07 L128.79,134.29 L129.73,134.50 L130.67,134.72 L131.61,134.93 L132.55,135.15 L133.49,135.37 L134.44,135.58 L135.38,135.80 L136.32,136.02 L137.26,136.23 L138.20,136.45 L139.14,136.67 L140.08,136.89 L141.02,137.11 L141.96,137.33 L142.91,137.55 L143.85,137.77 L144.79,137.99 L145.73,138.21 L146.67,138.43 L147.61,138.66 L148.55,138.88 L149.49,139.10 L150.43,139.33 L151.38,139.55 L152.32,139.78 L153.26,140.01 L154.20,140.24 L155.14,140.47 L156.08,140.70 L157.02,140.94 L157.96,141.17 L158.90,141.41 L159.85,141.65 L160.79,141.89 L161.73,142.13 L162.67,142.37 L163.61,142.61 L164.55,142.86 L165.49,143.10 L166.43,143.35 L167.37,143.60 L168.32,143.85 L169.26,144.09 L170.20,144.34 L171.14,144.59 L172.08,144.85 L173.02,145.10 L173.96,145.35 L174.90,145.60 L175.84,145.86 L176.79,146.11 L177.73,146.37 L178.67,146.62 L179.61,146.88 L180.55,147.13 L181.49,147.39 L182.43,147.65 L183.37,147.90 L184.31,148.16 L185.26,148.42 L186.20,148.68 L187.14,148.94 L188.08,149.20 L189.02,149.46 L189.96,149.72 L190.90,149.99 L191.84,150.25 L192.78,150.52 L193.73,150.78 L194.67,151.05 L195.61,151.32 L196.55,151.59 L197.49,151.86 L198.43,152.13 L199.37,152.40 L200.31,152.68 L201.25,152.95 L202.20,153.23 L203.14,153.50 L204.08,153.78 L205.02,154.06 L205.96,154.34 L206.90,154.62 L207.84,154.90 L208.78,155.19 L209.72,155.47 L210.67,155.76 L211.61,156.04 L212.55,156.33 L213.49,156.62 L214.43,156.91 L215.37,157.20 L216.31,157.49 L217.25,157.78 L218.19,158.07 L219.14,158.37 L220.08,158.66 L221.02,158.96 L221.96,159.26 L222.90,159.55 L223.84,159.85 L224.78,160.15 L225.72,160.46 L226.66,160.76 L227.61,161.06 L228.55,161.37 L229.49,161.67 L230.43,161.98 L231.37,162.29 L232.31,162.60 L233.25,162.91 L234.19,163.22 L235.13,163.53 L236.08,163.84 L237.02,164.16 L237.96,164.47 L238.90,164.79 L239.84,165.11 L240.78,165.43 L241.72,165.75 L242.66,166.07 L243.60,166.39 L244.55,166.71 L245.49,167.04 L246.43,167.36 L247.37,167.69 L248.31,168.02 L249.25,168.35 L250.19,168.68 L251.13,169.01 L252.07,169.35 L253.02,169.68 L253.96,170.02 L254.90,170.36 L255.84,170.70 L256.78,171.04 L257.72,171.38 L258.66,171.73 L259.60,172.08 L260.54,172.43 L261.48,172.78 L262.43,173.13 L263.37,173.49 L264.31,173.84 L265.25,174.20 L266.19,174.56 L267.13,174.93 L268.07,175.29 L269.01,175.66 L269.95,176.03 L270.90,176.41 L271.84,176.78 L272.78,177.16 L273.72,177.54 L274.66,177.93 L275.60,178.31 L276.54,178.70 L277.48,179.09 L278.42,179.49 L279.37,179.88 L280.31,180.28 L281.25,180.69 L282.19,181.09 L283.13,181.50 L284.07,181.92 L285.01,182.33 L285.95,182.75 L286.89,183.17 L287.84,183.60 L288.78,184.03 L289.72,184.46 L290.66,184.90 L291.60,185.34 L292.54,185.78 L293.48,186.23 L294.42,186.68 L295.36,187.13 L296.31,187.59 L297.25,188.06 L298.19,188.52 L299.13,188.99 L300.07,189.47 L301.01,189.95 L301.95,190.43 L302.89,190.91 L303.83,191.40 L304.78,191.90 L305.72,192.40 L306.66,192.90 L307.60,193.40 L308.54,193.91 L309.48,194.43 L310.42,194.95 L311.36,195.47 L312.30,196.00 L313.25,196.53 L314.19,197.06 L315.13,197.60 L316.07,198.15 L317.01,198.69 L317.95,199.25 L318.89,199.80 L319.83,200.36 L320.77,200.93 L321.72,201.50 L322.66,202.07 L323.60,202.65 L324.54,203.23 L325.48,203.82 L326.42,204.41 L327.36,205.01 L328.30,205.61 L329.24,206.22 L330.19,206.83 L331.13,207.44 L332.07,208.06 L333.01,208.69 L333.95,209.31 L334.89,209.95 L335.83,210.59 L336.77,211.23 L337.71,211.88 L338.66,212.54 L339.60,213.20 L340.54,213.86 L341.48,214.53 L342.42,215.20 L343.36,215.88 L344.30,216.57 L345.24,217.26 L346.18,217.95 L347.13,218.66 L348.07,219.36 L349.01,220.07 L349.95,220.79 L350.89,221.51 L351.83,222.24 L352.77,222.98 L353.71,223.72 L354.65,224.47 L355.60,225.22 L356.54,225.98 L357.48,226.75 L358.42,227.52 L359.36,228.30 L360.30,229.09 L361.24,229.88 L362.18,230.68 L363.12,231.49 L364.07,232.30 L365.01,233.12 L365.95,233.95 L366.89,234.79 L367.83,235.63 L368.77,236.48 L369.71,237.34 L370.65,238.21 L371.59,239.08 L372.54,239.96 L373.48,240.85 L374.42,241.75 L375.36,242.66 L376.30,243.57 L377.24,244.49 L378.18,245.43 L379.12,246.37 L380.06,247.31 L381.01,248.27 L381.95,249.24 L382.89,250.21 L383.83,251.20 L384.77,252.19 L385.71,253.19 L386.65,254.21 L387.59,255.23 L388.53,256.24 L389.47,257.26 L390.42,258.28 L391.36,259.30 L392.30,260.32 L393.24,261.35 L394.18,262.39 L395.12,263.44 L396.06,264.49 L397.00,265.56 L397.94,266.65 L398.89,267.74 L399.83,268.86 L400.77,269.99 L401.71,271.14 L402.65,272.32 L403.59,273.51 L404.53,274.74 L405.48,275.98 L406.43,277.24 L407.39,278.52 L408.36,279.80 L409.34,281.10 L410.32,282.42 L411.30,283.74 L412.29,285.08 L413.27,286.44 L414.25,287.80 L415.23,289.18 L416.20,290.58 L417.16,291.99 L418.11,293.41 L419.05,294.85 L419.99,296.30 L420.93,297.77" stroke="#ff0000"/>
</g>
<g font-family="Liberation Sans, sans-serif" fill="#000" stroke="#000" stroke-width="0.3" font-size="16">
<path transform="translate(53.93,322.40) scale(16,15.360)" d="M0.362,0 L0.266,0 L0.266,-0.5 L0.098,-0.5 L0.098,-0.572 C0.19,-0.572 0.26,-0.6 0.285,-0.714 L0.362,-0.714 Z" stroke="none"/>
<text transform="translate(0,322.4) scale(1,0.96)" x="62.83 71.72 76.17">0.0</text>
<path transform="translate(147.81,322.40) scale(16,15.360)" d="M0.362,0 L0.266,0 L0.266,-0.5 L0.098,-0.5 L0.098,-0.572 C0.19,-0.572 0.26,-0.6 0.285,-0.714 L0.362,-0.714 Z" stroke="none"/>
<text transform="translate(0,322.4) scale(1,0.96)" x="156.70 165.60 170.05">0.5</text>
<path transform="translate(241.68,322.40) scale(16,15.360)" d="M0.362,0 L0.266,0 L0.266,-0.5 L0.098,-0.5 L0.098,-0.572 C0.19,-0.572 0.26,-0.6 0.285,-0.714 L0.362,-0.714 Z" stroke="none"/>
<path transform="translate(250.58,322.40) scale(16,15.360)" d="M0.362,0 L0.266,0 L0.266,-0.5 L0.098,-0.5 L0.098,-0.572 C0.19,-0.572 0.26,-0.6 0.285,-0.714 L0.362,-0.714 Z" stroke="none"/>
<text transform="translate(0,322.4) scale(1,0.96)" x="259.47 263.92">.0</text>
<path transform="translate(335.56,322.40) scale(16,15.360)" d="M0.362,0 L0.266,0 L0.266,-0.5 L0.098,-0.5 L0.098,-0.572 C0.19,-0.572 0.26,-0.6 0.285,-0.714 L0.362,-0.714 Z" stroke="none"/>
<path transform="translate(344.45,322.40) scale(16,15.360)" d="M0.362,0 L0.266,0 L0.266,-0.5 L0.098,-0.5 L0.098,-0.572 C0.19,-0.572 0.26,-0.6 0.285,-0.714 L0.362,-0.714 Z" stroke="none"/>
<text transform="translate(0,322.4) scale(1,0.96)" x="353.35 357.80">.5</text>
<path transform="translate(429.43,322.40) scale(16,15.360)" d="M0.362,0 L0.266,0 L0.266,-0.5 L0.098,-0.5 L0.098,-0.572 C0.19,-0.572 0.26,-0.6 0.285,-0.714 L0.362,-0.714 Z" stroke="none"/>
<text transform="translate(0,322.4) scale(1,0.96)" x="438.33 447.22 451.67">2.0</text>
<path transform="translate(38.00,18.80) scale(16,15.360)" d="M0.362,0 L0.266,0 L0.266,-0.5 L0.098,-0.5 L0.098,-0.572 C0.19,-0.572 0.26,-0.6 0.285,-0.714 L0.362,-0.714 Z" stroke="none"/>
<text transform="translate(46.9,18.80) scale(1,0.96)">0<tspan font-size="10" dy="-8.8" dx="-0.6">-2</tspan></text>
<path transform="translate(38.00,85.65) scale(16,15.360)" d="M0.362,0 L0.266,0 L0.266,-0.5 L0.098,-0.5 L0.098,-0.572 C0.19,-0.572 0.26,-0.6 0.285,-0.714 L0.362,-0.714 Z" stroke="none"/>
<text transform="translate(46.9,85.65) scale(1,0.96)">0<tspan font-size="10" dy="-8.8" dx="-0.6">-3</tspan></text>
<path transform="translate(38.00,157.80) scale(16,15.360)" d="M0.362,0 L0.266,0 L0.266,-0.5 L0.098,-0.5 L0.098,-0.572 C0.19,-0.572 0.26,-0.6 0.285,-0.714 L0.362,-0.714 Z" stroke="none"/>
<text transform="translate(46.9,157.80) scale(1,0.96)">0<tspan font-size="10" dy="-8.8" dx="-0.6">-4</tspan></text>
<path transform="translate(38.00,229.95) scale(16,15.360)" d="M0.362,0 L0.266,0 L0.266,-0.5 L0.098,-0.5 L0.098,-0.572 C0.19,-0.572 0.26,-0.6 0.285,-0.714 L0.362,-0.714 Z" stroke="none"/>
<text transform="translate(46.9,229.95) scale(1,0.96)">0<tspan font-size="10" dy="-8.8" dx="-0.6">-5</tspan></text>
<path transform="translate(38.00,294.80) scale(16,15.360)" d="M0.362,0 L0.266,0 L0.266,-0.5 L0.098,-0.5 L0.098,-0.572 C0.19,-0.572 0.26,-0.6 0.285,-0.714 L0.362,-0.714 Z" stroke="none"/>
<text transform="translate(46.9,294.80) scale(1,0.96)">0<tspan font-size="10" dy="-8.8" dx="-0.6">-6</tspan></text>
<text x="216.0" y="345.7">log<tspan dx="1.0">(M/M</tspan><tspan font-size="9.9" dy="4.9">Sun</tspan><tspan dy="-4.9">)</tspan></text>
<g transform="translate(21.2,202.5) rotate(-90)"><text x="0" y="0">(gal.Mpc<tspan font-size="10" dy="-9.4">-3</tspan><tspan dy="9.4">.dex</tspan><tspan font-size="10" dy="-9.4">-</tspan><tspan dy="9.4" dx="4.86">)</tspan></text><path transform="translate(103.82,-9.40) scale(10,10.000)" d="M0.362,0 L0.266,0 L0.266,-0.5 L0.098,-0.5 L0.098,-0.572 C0.19,-0.572 0.26,-0.6 0.285,-0.714 L0.362,-0.714 Z" stroke="none"/></g>
<g transform="translate(17.0,208.65) skewY(14.4)" fill="none" stroke="#000" stroke-width="1.25"><ellipse cx="0" cy="0" rx="3.6" ry="4.2"/><path d="M-7.6,0 H7.8"/></g>
<g fill="#000000" stroke="#000000"><text font-size="16.6" transform="translate(0,46.75) scale(1,0.96)" x="386.3 407.6 416.2 420.6">z0.0</text><rect x="396.25" y="39.90" width="9.7" height="1.1"/><rect x="396.25" y="43.40" width="9.7" height="1.1"/></g>
<g fill="#2e00e3" stroke="#2e00e3"><text font-size="16.6" transform="translate(0,64.81) scale(1,0.96)" x="386.3 407.6 416.2 420.6">z0.5</text><rect x="396.25" y="57.96" width="9.7" height="1.1"/><rect x="396.25" y="61.46" width="9.7" height="1.1"/></g>
<g fill="#00d0ff" stroke="#00d0ff"><path transform="translate(407.60,82.87) scale(16.6,15.936)" d="M0.362,0 L0.266,0 L0.266,-0.5 L0.098,-0.5 L0.098,-0.572 C0.19,-0.572 0.26,-0.6 0.285,-0.714 L0.362,-0.714 Z" stroke="none"/><text font-size="16.6" transform="translate(0,82.87) scale(1,0.96)" x="386.3 416.2 420.6">z.0</text><rect x="396.25" y="76.02" width="9.7" height="1.1"/><rect x="396.25" y="79.52" width="9.7" height="1.1"/></g>
<g fill="#00ff00" stroke="#00ff00"><text font-size="16.6" transform="translate(0,100.93) scale(1,0.96)" x="386.3 407.6 416.2 420.6">z2.0</text><rect x="396.25" y="94.08" width="9.7" height="1.1"/><rect x="396.25" y="97.58" width="9.7" height="1.1"/></g>
<g fill="#ffff00" stroke="#ffff00"><text font-size="16.6" transform="translate(0,118.99) scale(1,0.96)" x="386.3 407.6 416.2 420.6">z3.0</text><rect x="396.25" y="112.14" width="9.7" height="1.1"/><rect x="396.25" y="115.64" width="9.7" height="1.1"/></g>
<g fill="#ff0000" stroke="#ff0000"><text font-size="16.6" transform="translate(0,137.05) scale(1,0.96)" x="386.3 407.6 416.2 420.6">z4.0</text><rect x="396.25" y="130.20" width="9.7" height="1.1"/><rect x="396.25" y="133.70" width="9.7" height="1.1"/></g>
</g>
</svg>
</body></html>
